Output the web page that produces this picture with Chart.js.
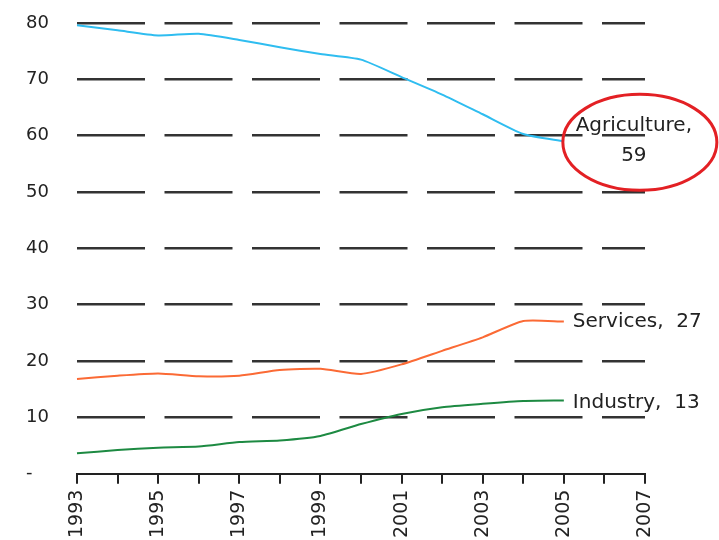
<!DOCTYPE html>
<html>
<head>
<meta charset="utf-8">
<script src="https://cdn.jsdelivr.net/npm/chart.js@4/dist/chart.umd.min.js"></script>
<style>
	body { margin: 0; background: #fff; }
	canvas { display: block; }
</style>
</head>
<body>
<canvas id="chart" width="719" height="540"></canvas>
<script>
const years = [1993, 1994, 1995, 1996, 1997, 1998, 1999, 2000, 2001, 2002, 2003, 2004, 2005, 2006, 2007];
const agriculture = [79.6, 78.7, 77.8, 78.1, 77.0, 75.7, 74.5, 73.5, 70.4, 67.3, 63.8, 60.3, 59];
const services = [16.8, 17.4, 17.8, 17.3, 17.4, 18.4, 18.6, 17.7, 19.4, 21.8, 24.2, 27.1, 27];
const industry = [3.6, 4.2, 4.6, 4.8, 5.6, 5.9, 6.7, 8.8, 10.6, 11.8, 12.4, 12.9, 13];
const yTicks = [0, 10, 20, 30, 40, 50, 60, 70, 80];

const font = 'DejaVu Sans, Verdana, sans-serif';

// labels at the end of each line, plus the ring round the agriculture one
const endLabels = {
	id: 'endLabels',
	afterDatasetsDraw(chart) {
		const ctx = chart.ctx;
		const x = chart.scales.x, y = chart.scales.y;
		const last = agriculture.length - 1;
		const px = x.getPixelForValue(last);
		ctx.save();
		ctx.fillStyle = '#222';
		ctx.font = '20px ' + font;
		ctx.textBaseline = 'middle';

		ctx.textAlign = 'left';
		ctx.fillText('Services,  ' + services[last], px + 9, y.getPixelForValue(services[last]));
		ctx.fillText('Industry,  ' + industry[last], px + 9, y.getPixelForValue(industry[last]) + 2);

		const ay = y.getPixelForValue(agriculture[last]);
		ctx.textAlign = 'center';
		ctx.fillText('Agriculture,', px + 70, ay - 15);
		ctx.fillText(String(agriculture[last]), px + 70, ay + 15);

		ctx.strokeStyle = '#e32024';
		ctx.lineWidth = 3;
		ctx.beginPath();
		ctx.ellipse(px + 76, ay + 1, 77, 48, 0, 0, Math.PI * 2);
		ctx.stroke();
		ctx.restore();
	}
};

new Chart(document.getElementById('chart'), {
	type: 'line',
	data: {
		labels: years,
		datasets: [
			{ label: 'Agriculture', data: agriculture, borderColor: '#2fbdf0' },
			{ label: 'Services', data: services, borderColor: '#fb6a35' },
			{ label: 'Industry', data: industry, borderColor: '#1d8a42' }
		]
	},
	options: {
		responsive: false,
		animation: false,
		layout: { padding: { left: 26, right: 74, top: 23, bottom: -4 } },
		elements: {
			point: { radius: 0 },
			line: { borderWidth: 2, tension: 0.2 }
		},
		plugins: {
			legend: { display: false },
			tooltip: { enabled: false }
		},
		scales: {
			x: {
				offset: false,
				border: { display: true, color: '#222', width: 2 },
				grid: { drawOnChartArea: false, drawTicks: true, tickLength: 10, color: '#222', lineWidth: 2 },
				ticks: {
					autoSkip: false,
					minRotation: 90,
					maxRotation: 90,
					padding: 6,
					color: '#222',
					font: { family: font, size: 19 },
					callback: (v, i) => years[i] % 2 === 1 ? String(years[i]) : ''
				}
			},
			y: {
				min: 0,
				max: 80,
				afterBuildTicks: s => { s.ticks = yTicks.map(v => ({ value: v })); },
				afterFit: s => { s.width = 51; },
				border: { display: false, dash: [68, 19.5] },
				grid: {
					drawTicks: false,
					lineWidth: 2.5,
					color: c => c.tick && c.tick.value === 0 ? 'rgba(0,0,0,0)' : '#333'
				},
				ticks: {
					crossAlign: 'far',
					color: '#222',
					font: { family: font, size: 18 },
					callback: v => v === 0 ? '-' : String(v)
				}
			}
		}
	},
	plugins: [endLabels]
});
</script>
</body>
</html>
